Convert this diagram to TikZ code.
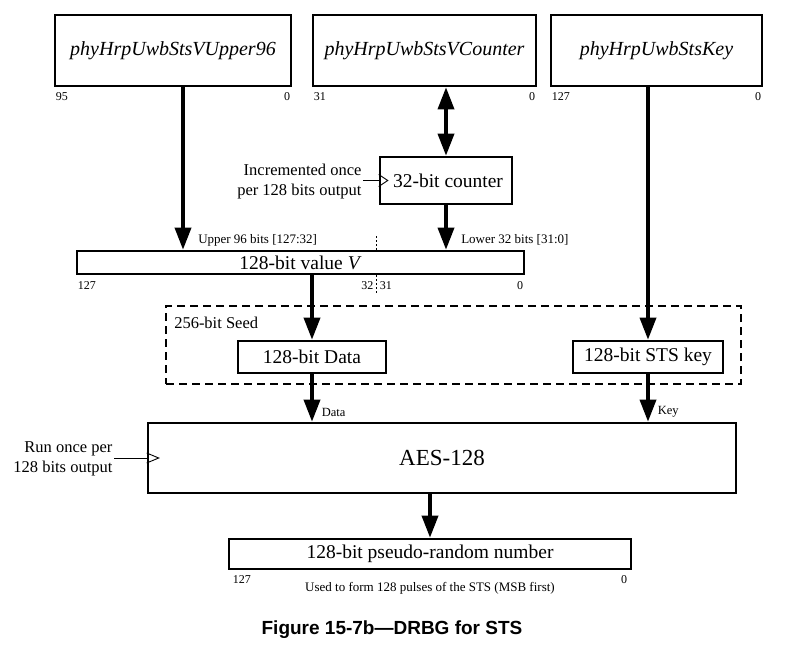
\documentclass[tikz,border=0pt]{standalone}
\usepackage{fontspec}
\setmainfont{Liberation Serif}
\newfontfamily\capfont{Liberation Sans}
\usetikzlibrary{arrows.meta,positioning}
\tikzset{every path/.style={black,line width=2.5pt}, every node/.style={inner sep=0pt}}
\tikzset{blk/.style={draw, line width=2.6pt, fill=white, font=\fontsize{19.5}{23}\selectfont},
  src/.style={blk, minimum height=71pt, font=\fontsize{20}{23}\selectfont\itshape},
  bus/.style={line width=3.5pt, -{Triangle[length=22pt,width=16pt]}},
  bibus/.style={line width=3.5pt, {Triangle[length=22pt,width=16pt]}-{Triangle[length=22pt,width=16pt]}},
  bitno/.style={font=\fontsize{12}{14}\selectfont, inner sep=1pt},
  small/.style={font=\fontsize{13}{15}\selectfont},
  note/.style={font=\fontsize{16.5}{19.5}\selectfont, align=right, anchor=east},
  clk/.style={line width=0.9pt, line join=miter}}

\begin{document}
\begin{tikzpicture}[x=1pt,y=-1pt]
     \useasboundingbox (0,0) rectangle (785,650);
     % sources
     \node[src, minimum width=236pt] (upper) at (173,50.5) {phyHrpUwbStsVUpper96};
     \node[src, minimum width=223pt] (ctrsrc) at (424.5,50.5) {phyHrpUwbStsVCounter};
     \node[src, minimum width=211pt] (keysrc) at (656.5,50.5) {phyHrpUwbStsKey};
     \node[bitno, anchor=north west] at ([yshift=-3pt]upper.south west) {95};
     \node[bitno, anchor=north east] at ([yshift=-3pt]upper.south east) {0};
     \node[bitno, anchor=north west] at ([yshift=-3pt]ctrsrc.south west) {31};
     \node[bitno, anchor=north east] at ([yshift=-3pt]ctrsrc.south east) {0};
     \node[bitno, anchor=north west] at ([yshift=-3pt]keysrc.south west) {127};
     \node[bitno, anchor=north east] at ([yshift=-3pt]keysrc.south east) {0};
     % counter
     \node[blk, minimum width=132pt, minimum height=47pt] (counter) at (446,180.5) {\hspace{4pt}32-bit counter};
     \draw[clk] (counter.west) ++(0,-6) -- ++(9,6) -- ++(-9,6);
     \draw[line width=0.9pt] (counter.west) -- ++(-16,0) coordinate (inc);
     \node[note] at ([yshift=-1pt]inc) {Incremented once\\per 128 bits output};
     % value V
     \node[blk, minimum width=447pt, minimum height=23pt] (vbar) at (300.5,262.5) {128-bit value \textit{V}};
     \node[bitno, anchor=north west] at ([yshift=-4pt]vbar.south west) {127};
     \node[bitno, anchor=north east] at ([yshift=-4pt]vbar.south east) {0};
     \draw[line width=1pt, dash pattern=on 2pt off 2pt] ([xshift=76pt]vbar.north) -- ++(0,-14);
     \draw[line width=1pt, dash pattern=on 2pt off 2pt] ([xshift=76pt]vbar.south) -- ++(0,18) coordinate (cut);
     \node[bitno, anchor=north east] at ([xshift=-1pt,yshift=14pt]cut) {32};
     \node[bitno, anchor=north west] at ([xshift=1pt,yshift=14pt]cut) {31};
     \draw[bus] ([xshift=10pt]upper.south) -- ([xshift=10pt]upper.south |- vbar.north);
     \draw[bibus] (ctrsrc.south -| counter) -- (counter.north);
     \draw[bus] (counter.south) -- (counter.south |- vbar.north);
     \node[small, anchor=west] at (197,240) {Upper 96 bits [127:32]};
     \node[small, anchor=west] at (460,240) {Lower 32 bits [31:0]};
     % seed
     \node[draw, line width=1.2pt, dash pattern=on 8pt off 5pt, minimum width=575pt, minimum height=78pt] (seed) at (453.5,345) {};
     \node[note, anchor=west] at (173,323) {256-bit Seed};
     \node[blk, minimum width=148pt, minimum height=32pt] (data) at (312,357) {128-bit Data};
     \node[blk, minimum width=150pt, minimum height=32pt] (stskey) at (648,357) {128-bit STS key};
     \draw[bus] (vbar.south -| data) -- (data.north);
     \draw[bus] (keysrc.south -| stskey) -- (stskey.north);
     % AES
     \node[blk, minimum width=588pt, minimum height=70pt, font=\fontsize{23}{27}\selectfont] (aes) at (442,458) {AES-128};
     \draw[bus] (data.south) -- (data.south |- aes.north) node[small, pos=0.8, right=8pt, font=\fontsize{12.5}{14}\selectfont] {Data};
     \draw[bus] (stskey.south) -- (stskey.south |- aes.north) node[small, pos=0.8, right=8pt, font=\fontsize{12.5}{14}\selectfont] {Key};
     \draw[clk] (aes.west) ++(0,-5) -- ++(12,5) -- ++(-12,5);
     \draw[line width=0.9pt] (aes.west) -- ++(-33,0) coordinate (run);
     \node[note] at ([yshift=-1pt]run) {Run once per\\128 bits output};
     % output
     \node[blk, minimum width=402pt, minimum height=30pt] (prn) at (430,554) {128-bit pseudo-random number};
     \draw[bus] (aes.south -| prn) -- (prn.north);
     \node[bitno, anchor=north west] at ([xshift=3pt,yshift=-3pt]prn.south west) {127};
     \node[bitno, anchor=north east] at ([xshift=-3pt,yshift=-3pt]prn.south east) {0};
     \node[small] at (430,588) {Used to form 128 pulses of the STS (MSB first)};
     \node[font=\capfont\bfseries\fontsize{19}{22}\selectfont] (caption) at (392,630) {Figure 15-7b—DRBG for STS};
    \end{tikzpicture}
\end{document}
